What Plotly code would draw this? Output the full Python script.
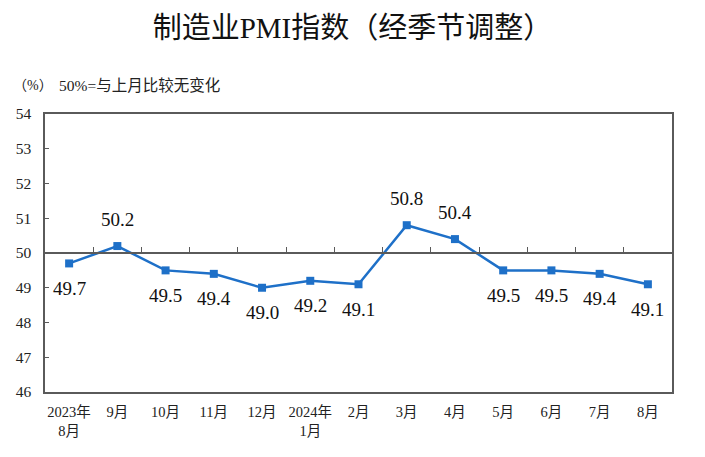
import plotly.graph_objects as go

months = ["2023年<br>8月", "9月", "10月", "11月", "12月", "2024年<br>1月",
          "2月", "3月", "4月", "5月", "6月", "7月", "8月"]
pmi = [49.7, 50.2, 49.5, 49.4, 49.0, 49.2, 49.1, 50.8, 50.4, 49.5, 49.5, 49.4, 49.1]
y_ticks = [46, 47, 48, 49, 50, 51, 52, 53, 54]
baseline = 50

FONT = "Liberation Serif, Noto Sans CJK SC"
LINE_BLUE = "rgb(30,112,200)"
FRAME = "#5a5a5a"

fig = go.Figure()
fig.add_trace(go.Scatter(
    x=months, y=pmi, mode="lines+markers",
    line=dict(color=LINE_BLUE, width=2.5),
    marker=dict(symbol="square", size=8, color=LINE_BLUE),
    hoverinfo="x+y", showlegend=False,
))
# invisible helper trace so the 50-line axis is drawn
fig.add_trace(go.Scatter(
    x=list(range(len(months))), y=pmi, xaxis="x2", mode="lines",
    line=dict(width=0), hoverinfo="skip", showlegend=False,
))

for m, v in zip(months, pmi):
    fig.add_annotation(
        x=m, y=v, text=f"{v:.1f}", showarrow=False,
        yshift=27 if v > baseline else -25,
        font=dict(family=FONT, size=19, color="#111"),
    )

fig.add_annotation(xref="paper", yref="paper", x=(11 - 45) / 627, y=(392 - 85) / 278,
                   xanchor="left", yanchor="middle", showarrow=False,
                   text="（%）", font=dict(family=FONT, size=14, color="#222"))
fig.add_annotation(xref="paper", yref="paper", x=(57 - 45) / 627, y=(392 - 85) / 278,
                   xanchor="left", yanchor="middle", showarrow=False,
                   text="50%=与上月比较无变化", font=dict(family=FONT, size=15.5, color="#222"))

fig.update_layout(
    width=705, height=457,
    margin=dict(l=45, r=33, t=114, b=65),
    paper_bgcolor="white", plot_bgcolor="white",
    font=dict(family=FONT, color="#222"),
    title=dict(text="制造业PMI指数（经季节调整）", x=0.5, xanchor="center",
               y=1 - 28 / 457, yanchor="middle", yref="container",
               font=dict(family=FONT, size=29, color="#111")),
    xaxis=dict(type="category", range=[-0.5, len(months) - 0.5],
               showline=True, linecolor=FRAME, linewidth=1.5, mirror=True,
               showgrid=False, ticks="", tickfont=dict(family=FONT, size=14.5, color="#222"),
               ticklabelstandoff=6),
    xaxis2=dict(overlaying="x", anchor="free", position=0.5,
                range=[-0.5, len(months) - 0.5],
                tickmode="array", tickvals=[i + 0.5 for i in range(len(months) - 1)],
                ticks="inside", ticklen=5, tickcolor=FRAME, tickwidth=1.2,
                showline=True, linecolor=FRAME, linewidth=1.5,
                showticklabels=False, showgrid=False, zeroline=False),
    yaxis=dict(range=[y_ticks[0], y_ticks[-1]], tickmode="array", tickvals=y_ticks,
               showline=True, linecolor=FRAME, linewidth=1.5, mirror=True,
               showgrid=False, zeroline=False,
               ticks="inside", ticklen=4, tickcolor=FRAME, tickwidth=1.2,
               tickfont=dict(family=FONT, size=15.5, color="#222"),
               ticklabelstandoff=9),
)

fig.write_html("out.html")
